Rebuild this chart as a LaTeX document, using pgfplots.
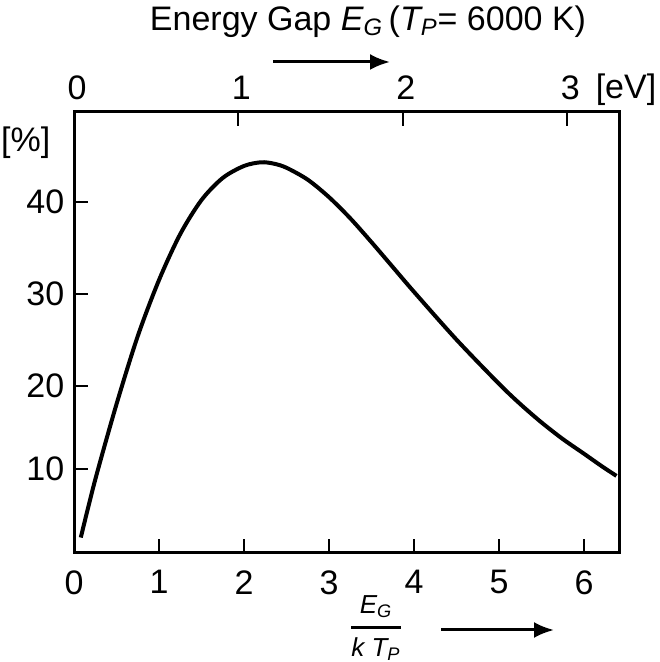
\documentclass[border=0pt]{standalone}
\usepackage{fontspec}
\setmainfont{Liberation Sans}
\usepackage{amsmath}
\usepackage{pgfplots}
\pgfplotsset{compat=1.18}
\usetikzlibrary{arrows.meta}

% ultimate efficiency vs. E_G/kT_P
\pgfplotstableread{
x     u
0.08  3.5
0.25  9.8
0.50  18.0
0.75  25.4
1.00  31.5
1.25  36.5
1.50  40.2
1.75  42.6
2.00  43.9
2.20  44.3
2.35  44.15
2.50  43.7
2.75  42.4
3.00  40.5
3.25  38.2
3.50  35.6
3.75  32.9
4.00  30.2
4.50  25.0
5.00  20.2
5.25  18.0
5.50  16.0
5.75  14.2
6.00  12.6
6.20  11.3
6.38  10.2
}\effdata

\begin{document}
\fontsize{17}{20}\selectfont
\begin{tikzpicture}
\pgfplotsset{
  myframe/.style={
    at={(37pt,54.65pt)}, anchor=south west,
    scale only axis, width=272.5pt, height=220.5pt,
    xmin=0, xmax=6.41, ymin=1.85, ymax=49.8,
    tick align=inside, major tick length=7pt,
    axis line style={line width=1.5pt, line cap=rect},
    every tick/.style={line width=1pt, black},
    /pgf/number format/assume math mode=true,
  },
}
\begin{axis}[
  myframe,
  xtick={0,1,2,3,4,5,6},
  ytick={11,20,30,40}, yticklabels={10,20,30,40},
  xtick pos=bottom, ytick pos=left,
  xticklabel style={yshift=-3pt},
  yticklabel style={xshift=1pt},
]
\addplot[line width=2pt, black, smooth, line join=round] table[x=x, y=u] {\effdata};
\end{axis}

\begin{axis}[
  myframe,
  axis x line*=top, axis y line=none,
  xtick={0,1.934,3.868,5.803}, xticklabels={0,1,2,3},
  xticklabel style={xshift=1.5pt},
]
\end{axis}

\node at (313pt,286pt) {[eV]};
\node at (31pt,259.5pt) [anchor=east] {[\%]};
\node at (184pt,320pt) {Energy Gap $\textit{E}_{\textit{G}}$\,($\textit{T}_{\textit{P}}$= 6000 K)};
\draw[line width=1.5pt, -{Latex[length=10pt,width=8pt]}] (136.5pt,300pt) -- (195pt,300pt);
\node at (188pt,17pt) {\fontsize{13}{15}\selectfont$\genfrac{}{}{1.4pt}{0}{\textit{E}_{\textit{G}}}{\textit{k T}_{\textit{P}}}$};
\draw[line width=1.5pt, -{Latex[length=10pt,width=8pt]}] (220.5pt,16pt) -- (277pt,16pt);

\pgfresetboundingbox
\path (0,0) rectangle (329.5pt,331pt);
\end{tikzpicture}
\end{document}
